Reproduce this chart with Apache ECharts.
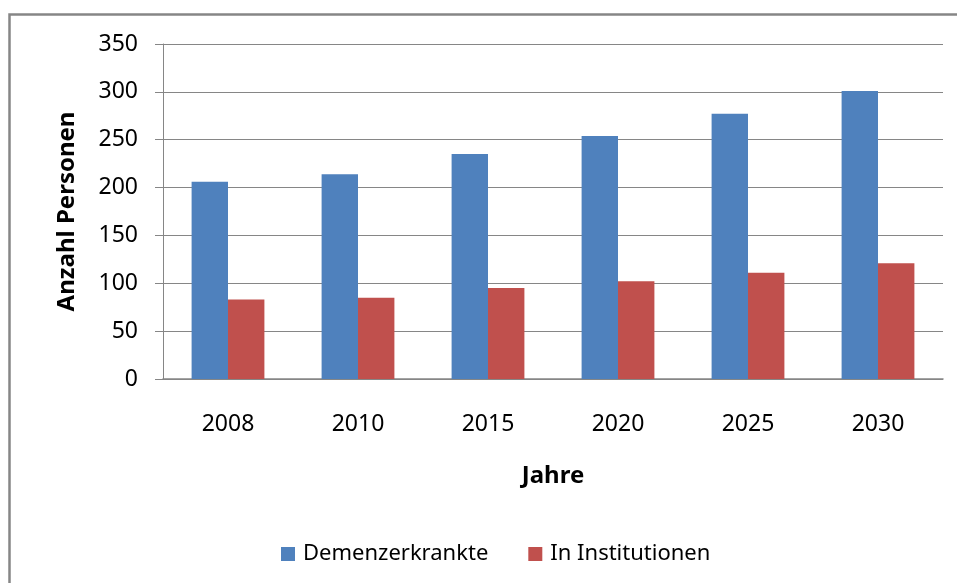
<!DOCTYPE html>
<html>
<head>
<meta charset="utf-8">
<script src="https://cdn.jsdelivr.net/npm/echarts@6/dist/echarts.min.js"></script>
<style>
html, body { margin: 0; padding: 0; background: #fff; }
#chart { width: 957px; height: 583px; }
</style>
</head>
<body>
<div id="chart"></div>
<script>
var jahre = ['2008', '2010', '2015', '2020', '2025', '2030'];
var demenzerkrankte = [206, 214, 235, 254, 277, 301];
var institutionen = [83, 85, 95, 102, 111, 121];

var chart = echarts.init(document.getElementById('chart'));
var font = 'Noto Sans';
var grau = '#868686';

var option = {
    animation: false,
    backgroundColor: '#fff',
    textStyle: { fontFamily: font },
    graphic: [{
        type: 'rect',
        shape: { x: 9.5, y: 14.5, width: 980, height: 600 },
        style: { fill: 'none', stroke: grau, lineWidth: 2.5 }
    }],
    legend: {
        left: 276,
        top: 538,
        itemWidth: 14,
        itemHeight: 14,
        itemGap: 40,
        textStyle: { fontFamily: font, fontSize: 22, color: '#000', padding: [0, 0, 0, 3] },
        data: [
            { name: 'Demenzerkrankte', icon: 'rect' },
            { name: 'In Institutionen', icon: 'rect' }
        ]
    },
    grid: {
        left: 163,
        right: 14,
        top: 44,
        bottom: 204
    },
    xAxis: {
        type: 'category',
        data: jahre,
        name: 'Jahre',
        nameLocation: 'middle',
        nameGap: 85,
        nameTextStyle: { fontFamily: font, fontSize: 24, fontWeight: 'bold', color: '#000' },
        axisLine: { lineStyle: { color: grau, width: 1.5 } },
        axisTick: { show: false },
        axisLabel: { fontFamily: font, fontSize: 23, color: '#000', margin: 34 }
    },
    yAxis: {
        type: 'value',
        min: 0,
        max: 350,
        interval: 50,
        name: 'Anzahl Personen',
        nameLocation: 'middle',
        nameGap: 84,
        nameTextStyle: { fontFamily: font, fontSize: 24, fontWeight: 'bold', color: '#000' },
        axisLine: { show: true, lineStyle: { color: grau, width: 1 } },
        axisTick: { show: true, length: 8, lineStyle: { color: grau } },
        axisLabel: { fontFamily: font, fontSize: 23, color: '#000', margin: 25 },
        splitLine: { lineStyle: { color: grau, width: 1 } }
    },
    series: [{
        name: 'Demenzerkrankte',
        type: 'bar',
        data: demenzerkrankte,
        barGap: '0%',
        barCategoryGap: '44%',
        itemStyle: { color: '#4f81bd' }
    }, {
        name: 'In Institutionen',
        type: 'bar',
        data: institutionen,
        itemStyle: { color: '#c0504d' }
    }]
};

chart.setOption(option);
</script>
</body>
</html>
